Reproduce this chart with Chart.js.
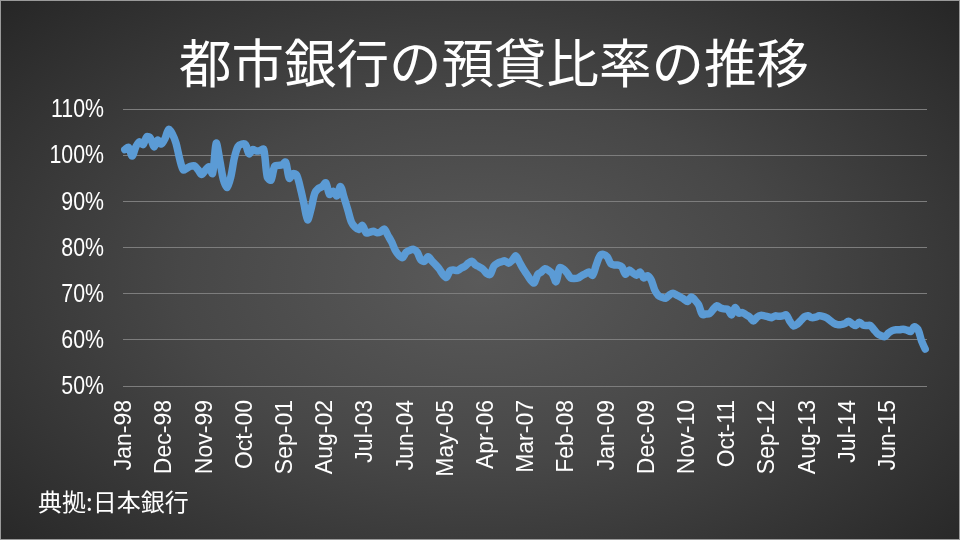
<!DOCTYPE html>
<html>
<head>
<meta charset="utf-8">
<script src="https://cdn.jsdelivr.net/npm/chart.js@4.4.1/dist/chart.umd.min.js"></script>
<style>
  html, body { margin: 0; padding: 0; }
  body { width: 960px; height: 540px; overflow: hidden; }
  #wrap {
    position: relative;
    width: 958px; height: 538px;
    border: 1px solid #9a9a9a;
    background: radial-gradient(ellipse 70% 75% at 50% 52%, #5a5a5a 0%, #474747 45%, #262626 100%);
  }
  #title {
    position: absolute; left: 28px; top: 26px; width: 930px;
    text-align: center; color: #fff;
    font-family: "Noto Sans CJK JP", sans-serif; font-size: 52.5px; line-height: 66px;
  }
  #source {
    position: absolute; left: 37px; top: 482px; color: #fff;
    font-family: "Noto Sans CJK JP", sans-serif; font-size: 24px;
  }
  canvas { position: absolute; left: 0; top: 0; }
</style>
</head>
<body>
<div id="wrap">
  <canvas id="c" width="958" height="538"></canvas>
  <div id="title">都市銀行の預貸比率の推移</div>
  <div id="source">典拠:日本銀行</div>
</div>
<script>
// monthly loan-to-deposit ratio (%), Jan-98 .. Apr-16
const startYear = 1998;
const monthNames = ["Jan","Feb","Mar","Apr","May","Jun","Jul","Aug","Sep","Oct","Nov","Dec"];
const ratio = [
  101.2, 101.7, 99.8, 101.8, 102.9, 102.3, 104.0, 103.7, 101.8, 103.3, 102.4, 103.6,
  105.6, 104.6, 102.6, 99.2, 96.8, 97.2, 97.6, 97.7, 96.9, 95.8, 96.7, 97.5,
  96.0, 102.6, 98.8, 94.6, 93.0, 95.3, 99.5, 101.9, 102.4, 102.3, 100.3, 101.2,
  100.9, 101.0, 101.3, 95.2, 94.6, 97.6, 97.8, 97.9, 98.5, 95.0, 96.0, 95.7,
  93.0, 89.5, 86.0, 88.5, 91.8, 92.8, 93.2, 94.0, 91.5, 92.2, 91.2, 93.2,
  90.8, 88.2, 85.5, 84.4, 83.9, 84.8, 83.2, 83.3, 83.5, 83.2, 83.4, 84.0,
  82.6, 81.2, 79.4, 78.3, 77.8, 79.0, 79.4, 79.6, 79.0, 77.3, 77.0, 78.0,
  77.1, 76.3, 75.4, 74.2, 73.5, 75.0, 75.1, 75.0, 75.5, 75.9, 76.6, 77.0,
  76.2, 75.8, 75.3, 74.4, 74.2, 76.0, 76.6, 76.9, 77.1, 76.6, 77.2, 78.2,
  76.8, 75.4, 74.2, 73.0, 72.3, 74.2, 74.7, 75.4, 75.0, 74.3, 72.6, 75.6,
  75.3, 74.5, 73.4, 73.3, 73.4, 73.9, 74.3, 74.7, 74.0, 76.2, 78.2, 78.5,
  78.0, 76.5, 76.2, 76.2, 75.8, 74.2, 75.1, 74.5, 74.0, 74.7, 73.4, 73.9,
  73.0, 70.8, 69.6, 69.2, 69.0, 69.7, 70.1, 69.7, 69.3, 68.8, 68.3, 69.3,
  68.6, 67.6, 65.5, 65.6, 65.7, 66.6, 67.4, 66.9, 66.7, 66.6, 65.4, 67.0,
  65.8, 65.9, 65.4, 64.9, 64.1, 64.9, 65.3, 65.2, 65.0, 64.8, 65.2, 65.1,
  65.2, 65.4, 64.0, 63.0, 63.4, 64.2, 65.0, 65.2, 64.8, 64.9, 65.2, 65.1,
  64.8, 64.2, 63.6, 63.3, 63.3, 63.5, 64.0, 63.5, 63.1, 63.8, 63.2, 63.1,
  63.1, 62.2, 61.3, 60.9, 60.7, 61.5, 62.0, 62.2, 62.2, 62.3, 62.1, 61.8,
  62.8, 62.3, 59.8, 58.0
];
const labelEvery = 11;
const yTicks = [50, 60, 70, 80, 90, 100, 110];

const months = ratio.map((_, i) => {
  const m = i % 12, y = startYear + Math.floor(i / 12);
  return monthNames[m] + "-" + String(y).slice(2);
});

// y labels in the reference use a narrow face: draw them squeezed horizontally
const narrowYLabels = {
  id: "narrowYLabels",
  afterDraw(chart) {
    const ctx = chart.ctx, y = chart.scales.y;
    ctx.save();
    ctx.fillStyle = "#fff";
    ctx.font = "26px 'Liberation Sans', sans-serif";
    ctx.textAlign = "right";
    ctx.textBaseline = "middle";
    yTicks.forEach(v => {
      ctx.save();
      ctx.translate(103, y.getPixelForValue(v) + 1);
      ctx.scale(0.82, 1);
      ctx.fillText(v + "%", 0, 0);
      ctx.restore();
    });
    ctx.restore();
  }
};

new Chart(document.getElementById("c"), {
  type: "line",
  data: {
    labels: months,
    datasets: [{
      data: ratio,
      borderColor: "#5B9BD5",
      borderWidth: 7.5,
      borderJoinStyle: "round",
      borderCapStyle: "round",
      pointRadius: 0,
      tension: 0.3,
      fill: false
    }]
  },
  options: {
    animation: false,
    responsive: false,
    layout: { padding: { left: 0, right: 32, top: 108, bottom: 40 } },
    plugins: { legend: { display: false }, tooltip: { enabled: false } },
    scales: {
      x: {
        offset: true,
        grid: { display: false, drawTicks: false },
        border: { display: false },
        afterFit: s => { s.height = 113; },
        ticks: {
          autoSkip: false, maxRotation: 90, minRotation: 90, padding: 14,
          color: "#fff",
          font: { family: "Liberation Sans", size: 23 },
          callback: function (v, i) { return i % labelEvery === 0 ? this.getLabelForValue(v) : null; }
        }
      },
      y: {
        min: yTicks[0], max: yTicks[yTicks.length - 1],
        afterBuildTicks: s => { s.ticks = yTicks.map(v => ({ value: v })); },
        afterFit: s => { s.width = 122; },
        grid: { color: "#7d7d7d", lineWidth: 1, drawTicks: false },
        border: { display: false },
        ticks: { display: false }
      }
    }
  },
  plugins: [narrowYLabels]
});
</script>
</body>
</html>
